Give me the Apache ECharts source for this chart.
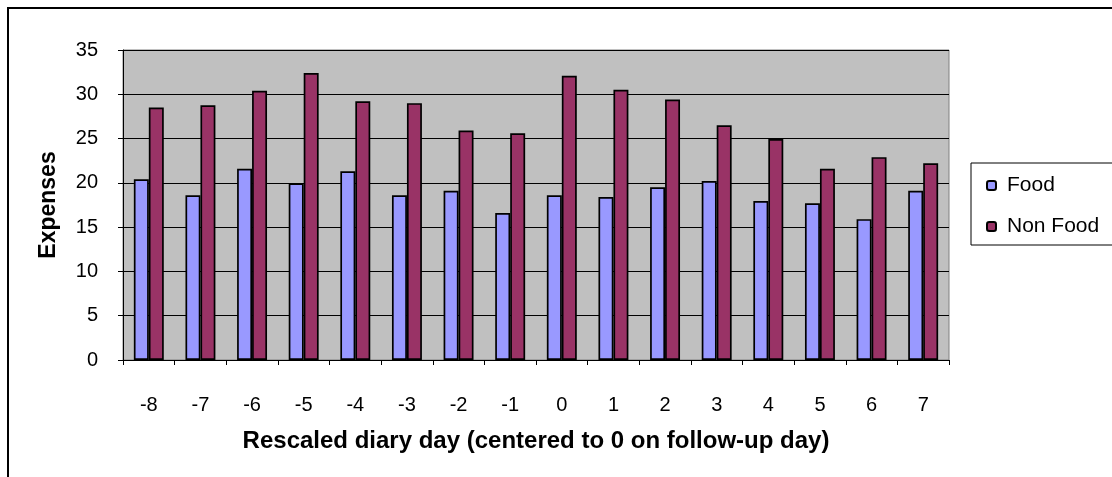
<!DOCTYPE html>
<html>
<head>
<meta charset="utf-8">
<script src="https://cdn.jsdelivr.net/npm/echarts@6/dist/echarts.min.js"></script>
<style>html,body{margin:0;padding:0;background:#fff}#c{width:1112px;height:477px}</style>
</head>
<body>
<div id="c"></div>
<script>
var categories = ['-8','-7','-6','-5','-4','-3','-2','-1','0','1','2','3','4','5','6','7'];
var foodValues = [20.4, 18.6, 21.6, 19.95, 21.3, 18.6, 19.1, 16.6, 18.6, 18.4, 19.5, 20.2, 17.95, 17.7, 15.9, 19.1];
var nonFoodValues = [28.5, 28.75, 30.4, 32.4, 29.2, 29.0, 25.9, 25.6, 32.1, 30.5, 29.4, 26.5, 24.95, 21.6, 22.9, 22.2];
var seriesNames = ['Food', 'Non Food'];
var yTicks = {min: 0, max: 35, interval: 5};

var chart = echarts.init(document.getElementById('c'), null, {renderer: 'canvas'});
var font = 'Liberation Sans, Arial, sans-serif';
chart.setOption({
  animation: false,
  textStyle: {fontFamily: font},
  graphic: [{
    type: 'rect', left: 7, top: 7, silent: true, z: -10,
    shape: {width: 1200, height: 600},
    style: {fill: '#fff', stroke: '#000', lineWidth: 2}
  }],
  grid: {left: 123, right: 163, top: 50, bottom: 117, show: true,
         backgroundColor: '#C0C0C0', borderColor: '#808080', borderWidth: 1},
  legend: {
    left: 971, top: 163, orient: 'vertical',
    itemWidth: 9, itemHeight: 9, itemGap: 20,
    padding: [12, 40, 8, 15],
    borderColor: '#000', borderWidth: 1,
    textStyle: {fontSize: 21, color: '#000', fontFamily: font, padding: [0, 0, 0, 6]},
    data: seriesNames
  },
  xAxis: {
    type: 'category', data: categories,
    axisLine: {lineStyle: {color: '#000', width: 1}},
    axisTick: {show: true, interval: 0, length: 5, alignWithLabel: false, lineStyle: {color: '#000'}},
    axisLabel: {fontSize: 20, color: '#000', margin: 35, fontFamily: font},
    name: 'Rescaled diary day (centered to 0 on follow-up day)',
    nameLocation: 'middle', nameGap: 69,
    nameTextStyle: {fontSize: 24, fontWeight: 'bold', color: '#000', fontFamily: font}
  },
  yAxis: {
    type: 'value', min: yTicks.min, max: yTicks.max, interval: yTicks.interval,
    axisLine: {show: true, lineStyle: {color: '#000', width: 1}},
    axisTick: {show: true, length: 5, lineStyle: {color: '#000'}},
    axisLabel: {fontSize: 20, color: '#000', margin: 25, fontFamily: font},
    splitLine: {show: true, lineStyle: {color: '#000', width: 1}},
    name: 'Expenses', nameLocation: 'middle', nameGap: 63, nameRotate: 90,
    nameTextStyle: {fontSize: 23, fontWeight: 'bold', color: '#000', fontFamily: font}
  },
  series: [{
    name: seriesNames[0], type: 'bar', data: foodValues,
    barWidth: '29%', barGap: '0%',
    itemStyle: {color: '#9999FF', borderColor: '#000', borderWidth: 1.7}
  }, {
    name: seriesNames[1], type: 'bar', data: nonFoodValues,
    barWidth: '29%', barGap: '0%',
    itemStyle: {color: '#993366', borderColor: '#000', borderWidth: 1.7}
  }]
});
</script>
</body>
</html>
